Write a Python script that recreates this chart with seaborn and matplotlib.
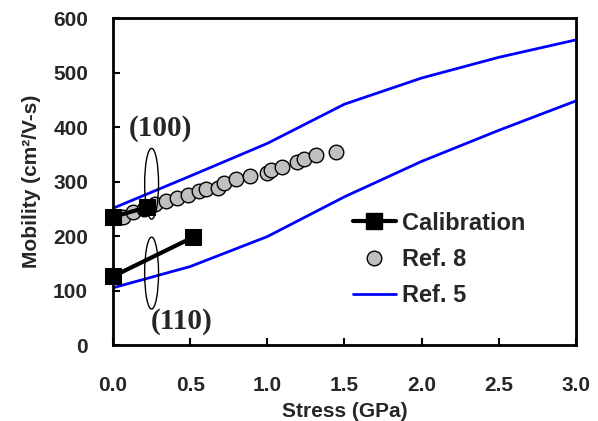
import matplotlib
matplotlib.use("Agg")
import matplotlib.pyplot as plt
from matplotlib.patches import Ellipse
from matplotlib.lines import Line2D
import seaborn as sns

# Ref. 5 model curves for the (100) and (110) orientations
stress_ref5 = [0.0, 0.5, 1.0, 1.5, 2.0, 2.5, 3.0]
mob_ref5_100 = [251, 310, 370, 442, 490, 528, 560]
mob_ref5_110 = [105, 144, 199, 272, 337, 394, 448]

# Ref. 8 measured points
stress_ref8 = [0.067, 0.128, 0.20, 0.272, 0.343, 0.413, 0.488, 0.557, 0.603, 0.683,
               0.719, 0.797, 0.888, 0.996, 1.022, 1.093, 1.19, 1.238, 1.316, 1.445]
mob_ref8 = [235, 245, 249, 259, 264, 269, 275, 283, 286, 289,
            298, 305, 310, 316, 322, 327, 335, 341, 349, 355]

# Calibrated model points
stress_cal_100 = [0.0, 0.22]
mob_cal_100 = [235, 253]
stress_cal_110 = [0.0, 0.52]
mob_cal_110 = [126, 198]

x_ticks = [0.0, 0.5, 1.0, 1.5, 2.0, 2.5, 3.0]
y_ticks = [0, 100, 200, 300, 400, 500, 600]

sns.set_style("ticks")
plt.rcParams["font.family"] = ["Liberation Sans", "DejaVu Sans"]
plt.rcParams["font.weight"] = "bold"

fig = plt.figure(figsize=(5.98, 4.21), dpi=100)
ax = fig.add_axes([0.189, 0.1805, 0.774, 0.7765])

blue = "#0000FF"
sns.lineplot(x=stress_ref5, y=mob_ref5_100, ax=ax, color=blue, lw=2, zorder=2)
sns.lineplot(x=stress_ref5, y=mob_ref5_110, ax=ax, color=blue, lw=2, zorder=2)

sns.scatterplot(x=stress_ref8, y=mob_ref8, ax=ax, s=110, color="#C0C0C0",
                edgecolor="black", linewidth=1.0, zorder=3)

for xs, ys in [(stress_cal_100, mob_cal_100), (stress_cal_110, mob_cal_110)]:
    sns.lineplot(x=xs, y=ys, ax=ax, color="black", lw=3, marker="s", markersize=11,
                 markeredgecolor="black", zorder=4, clip_on=False)

# Orientation groupings
for cy, h in [(296, 130), (132, 132)]:
    ax.add_patch(Ellipse((0.25, cy), 0.09, h, fill=False, edgecolor="black",
                         lw=1.0, zorder=5))
ax.text(0.305, 398, "(100)", family="Liberation Serif", fontweight="bold",
        fontsize=21, ha="center", va="center")
ax.text(0.445, 43, "(110)", family="Liberation Serif", fontweight="bold",
        fontsize=21, ha="center", va="center")

ax.set_xlim(0, 3)
ax.set_ylim(0, 600)
ax.set_xticks(x_ticks)
ax.set_xticklabels([f"{v:.1f}" for v in x_ticks])
ax.set_yticks(y_ticks)
ax.set_yticklabels([str(v) for v in y_ticks])
ax.tick_params(direction="in", length=5, width=1.5, labelsize=15, color="black")
ax.tick_params(axis="x", pad=22)
ax.tick_params(axis="y", pad=18)
for sp in ax.spines.values():
    sp.set_linewidth(2)
    sp.set_color("black")
    sp.set_visible(True)

ax.set_xlabel("Stress (GPa)", fontsize=15, fontweight="bold", labelpad=5)
ax.set_ylabel("Mobility (cm\u00b2/V-s)", fontsize=15, fontweight="bold", labelpad=9)

handles = [
    Line2D([], [], color="black", lw=3, marker="s", markersize=11),
    Line2D([], [], ls="none", marker="o", markersize=10.5, markerfacecolor="#C0C0C0",
           markeredgecolor="black", markeredgewidth=1.0),
    Line2D([], [], color=blue, lw=2),
]
ax.legend(handles, ["Calibration", "Ref. 8", "Ref. 5"], loc="center left",
          bbox_to_anchor=(0.473, 0.262), frameon=False,
          handlelength=1.8, handletextpad=0.25, labelspacing=0.56,
          prop={"family": "Liberation Sans", "weight": "bold", "size": 17})

fig.savefig("out.png", dpi=100)
